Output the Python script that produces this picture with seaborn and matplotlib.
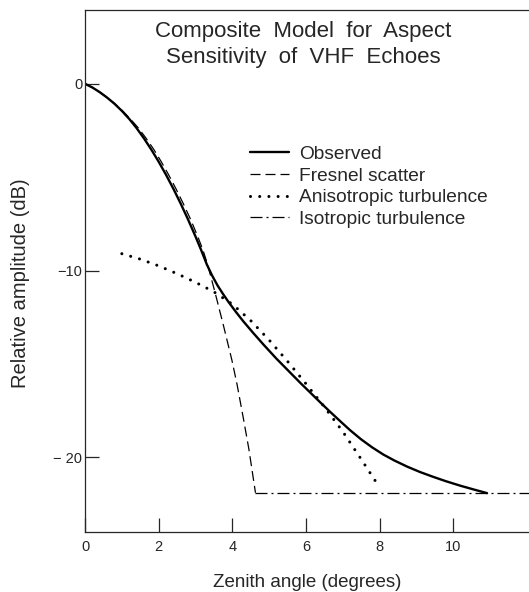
import numpy as np
import pandas as pd
import matplotlib
matplotlib.use("Agg")
import matplotlib.pyplot as plt
import seaborn as sns

# values (zenith angle in degrees, amplitude in dB)
obs_x = [0, 0.2, 0.4, 0.6, 0.8, 1.0, 1.2, 1.4, 1.6, 1.8, 2.0, 2.2, 2.4, 2.6, 2.8, 3.0, 3.15, 3.31,
         3.45, 3.6, 3.75, 3.9, 4.1, 4.3, 4.55, 4.85, 5.2, 5.57, 5.85, 6.11, 6.4, 6.66, 6.95,
         7.2, 7.5, 7.8, 8.1, 8.4, 8.75, 9.1, 9.46, 9.8, 10.19, 10.55, 10.92]
obs_y = [0, -0.2, -0.45, -0.74, -1.07, -1.45, -1.88, -2.37, -2.92, -3.52, -4.17, -4.87, -5.62,
         -6.42, -7.27, -8.17, -8.88, -9.68,
         -10.26, -10.8, -11.26, -11.69, -12.22, -12.72, -13.3, -13.97, -14.72, -15.46, -16.02,
         -16.52, -17.08, -17.57, -18.1, -18.55, -19.04, -19.47, -19.85, -20.17, -20.5, -20.79,
         -21.05, -21.28, -21.52, -21.72, -21.92]

fres_x = [0, 0.2, 0.4, 0.6, 0.81, 1.02, 1.23, 1.45, 1.66, 1.87, 2.07, 2.27, 2.47, 2.67, 2.87,
          3.06, 3.2, 3.33, 3.53, 3.76, 3.99, 4.13, 4.3, 4.45, 4.63]
fres_y = [0, -0.2, -0.45, -0.74, -1.07, -1.45, -1.88, -2.37, -2.92, -3.52, -4.17, -4.87, -5.62,
          -6.42, -7.27, -8.17, -8.88, -9.68, -11.16, -12.94, -14.8, -16.1, -17.9, -19.55, -21.9]

aniso_x = [1.0, 1.5, 2.0, 2.5, 3.0, 3.5, 4.0, 4.5, 5.0, 5.5, 6.0, 6.5, 7.0, 7.5, 7.93]
aniso_y = [-9.1, -9.39, -9.75, -10.17, -10.63, -11.14, -11.8, -12.68, -13.72, -14.86, -16.06,
           -17.3, -18.62, -20.1, -21.4]

iso_x = [4.63, 12.1]
iso_y = [-21.9, -21.9]

x_ticks = [0, 2, 4, 6, 8, 10]
y_ticks = [0, -10, -20]
y_tick_labels = ["0", "\u221210", "\u2212 20"]

sns.set_style("ticks")
plt.rcParams['font.family'] = ['Liberation Sans', 'DejaVu Sans']

fig = plt.figure(figsize=(5.29, 5.92), dpi=100)
ax = fig.add_axes([0.1607, 0.1014, 0.8393, 0.8817])

sns.lineplot(x=obs_x, y=obs_y, ax=ax, color='black', lw=1.7, label='Observed',
             sort=False, estimator=None)
sns.lineplot(x=fres_x, y=fres_y, ax=ax, color='black', lw=0.9, label='Fresnel scatter',
             sort=False, estimator=None)
ax.lines[-1].set_dashes([8, 4])
sns.lineplot(x=aniso_x, y=aniso_y, ax=ax, color='black', lw=2.2, label='Anisotropic turbulence',
             sort=False, estimator=None)
ax.lines[-1].set_linestyle((0, (0.01, 3.0)))
ax.lines[-1].set_dash_capstyle('round')
sns.lineplot(x=iso_x, y=iso_y, ax=ax, color='black', lw=0.9, label='Isotropic turbulence',
             sort=False, estimator=None)
ax.lines[-1].set_dashes([9.6, 3.2, 1.6, 3.2])

ax.set_xlim(0, 12.06)
ax.set_ylim(-24, 3.95)
ax.set_xticks(x_ticks)
ax.set_xticklabels([str(t) for t in x_ticks])
ax.set_yticks(y_ticks)
ax.set_yticklabels(y_tick_labels)
ax.tick_params(direction='in', length=10, width=0.9, labelsize=10.5)
ax.tick_params(axis='y', pad=2)
ax.tick_params(axis='x', pad=6)

for s in ['left', 'bottom', 'top']:
    ax.spines[s].set_linewidth(0.9)
ax.spines['right'].set_visible(False)

ax.set_xlabel('Zenith angle (degrees)', fontsize=13.5)
ax.xaxis.label.set_verticalalignment('center')
ax.xaxis.set_label_coords(0.5, -0.096)
ax.set_ylabel('Relative amplitude (dB)', fontsize=14.5)
ax.yaxis.set_label_coords(-0.124, 0.477)

ax.text(0.491, 0.934, 'Composite  Model  for  Aspect\nSensitivity  of  VHF  Echoes',
        transform=ax.transAxes, ha='center', va='center', fontsize=16, linespacing=1.3)

leg = ax.legend(loc='upper left', bbox_to_anchor=(0.372, 0.74), frameon=False,
                fontsize=13.8, handlelength=2.05, handletextpad=0.48, labelspacing=0.22,
                borderpad=0, borderaxespad=0)

plt.savefig('out.png', dpi=100)
